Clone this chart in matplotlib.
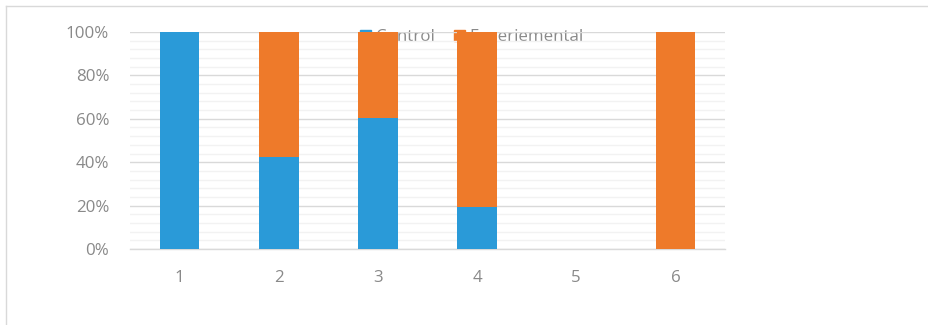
import matplotlib
matplotlib.use("Agg")
import matplotlib.pyplot as plt
from matplotlib.lines import Line2D
from matplotlib.ticker import FuncFormatter, MultipleLocator
import numpy as np

categories = ["1", "2", "3", "4", "5", "6"]
control = [100, 42.5, 60.5, 19.5, 0, 0]
experimental = [0, 57.5, 39.5, 80.5, 0, 100]
series_names = ["Control", "Experiemental"]
colors = ["#2a9ad8", "#ee7a2a"]
text_color = "#898989"

plt.rcParams['font.family'] = ['Open Sans', 'DejaVu Sans']
FS = 12.2

fig = plt.figure(figsize=(9.29, 3.25), dpi=100)
ax = fig.add_axes([130/929, 1-249/325, 595/929, 217/325])
ax.patch.set_alpha(0)

x = np.arange(len(categories))
ax.bar(x, control, width=0.4, color=colors[0], label=series_names[0], zorder=3)
ax.bar(x, experimental, width=0.4, bottom=control, color=colors[1], label=series_names[1], zorder=3)

ax.set_xlim(-0.5, len(categories) - 0.5)
ax.set_ylim(0, 100)
ax.yaxis.set_major_locator(MultipleLocator(20))
ax.yaxis.set_minor_locator(MultipleLocator(4))
ax.yaxis.set_major_formatter(FuncFormatter(lambda v, p: f"{int(v)}%"))
ax.set_xticks(x)
ax.set_xticklabels(categories)
ax.grid(axis='y', which='major', color='#d9d9d9', linewidth=1.0, zorder=0)
ax.grid(axis='y', which='minor', color='#f2f2f2', linewidth=1.0, zorder=0)
for s in ['top', 'right', 'left']:
    ax.spines[s].set_visible(False)
ax.spines['bottom'].set_color('#d9d9d9')
ax.spines['bottom'].set_linewidth(1.0)
ax.tick_params(axis='both', which='both', length=0, colors=text_color, labelsize=FS)
ax.tick_params(axis='y', pad=15)
ax.tick_params(axis='x', pad=15)

legend_x = [362, 456]
for name, c, lx in zip(series_names, colors, legend_x):
    leg = fig.legend(handles=[plt.Rectangle((0, 0), 1, 1, color=c)], labels=[name],
                     loc='center left', bbox_to_anchor=(lx/929 - 0.002, 1-37/325),
                     frameon=False, fontsize=FS, labelcolor=text_color,
                     handlelength=0.62, handleheight=0.62, handletextpad=0.3,
                     borderpad=0, borderaxespad=0)
    leg.set_zorder(-1)

fig.add_artist(Line2D([6/929, 1], [1-6/325, 1-6/325], color='#d9d9d9', linewidth=1.0))
fig.add_artist(Line2D([6/929, 6/929], [0, 1-6/325], color='#d9d9d9', linewidth=1.0))

fig.savefig("out.png", dpi=100)
